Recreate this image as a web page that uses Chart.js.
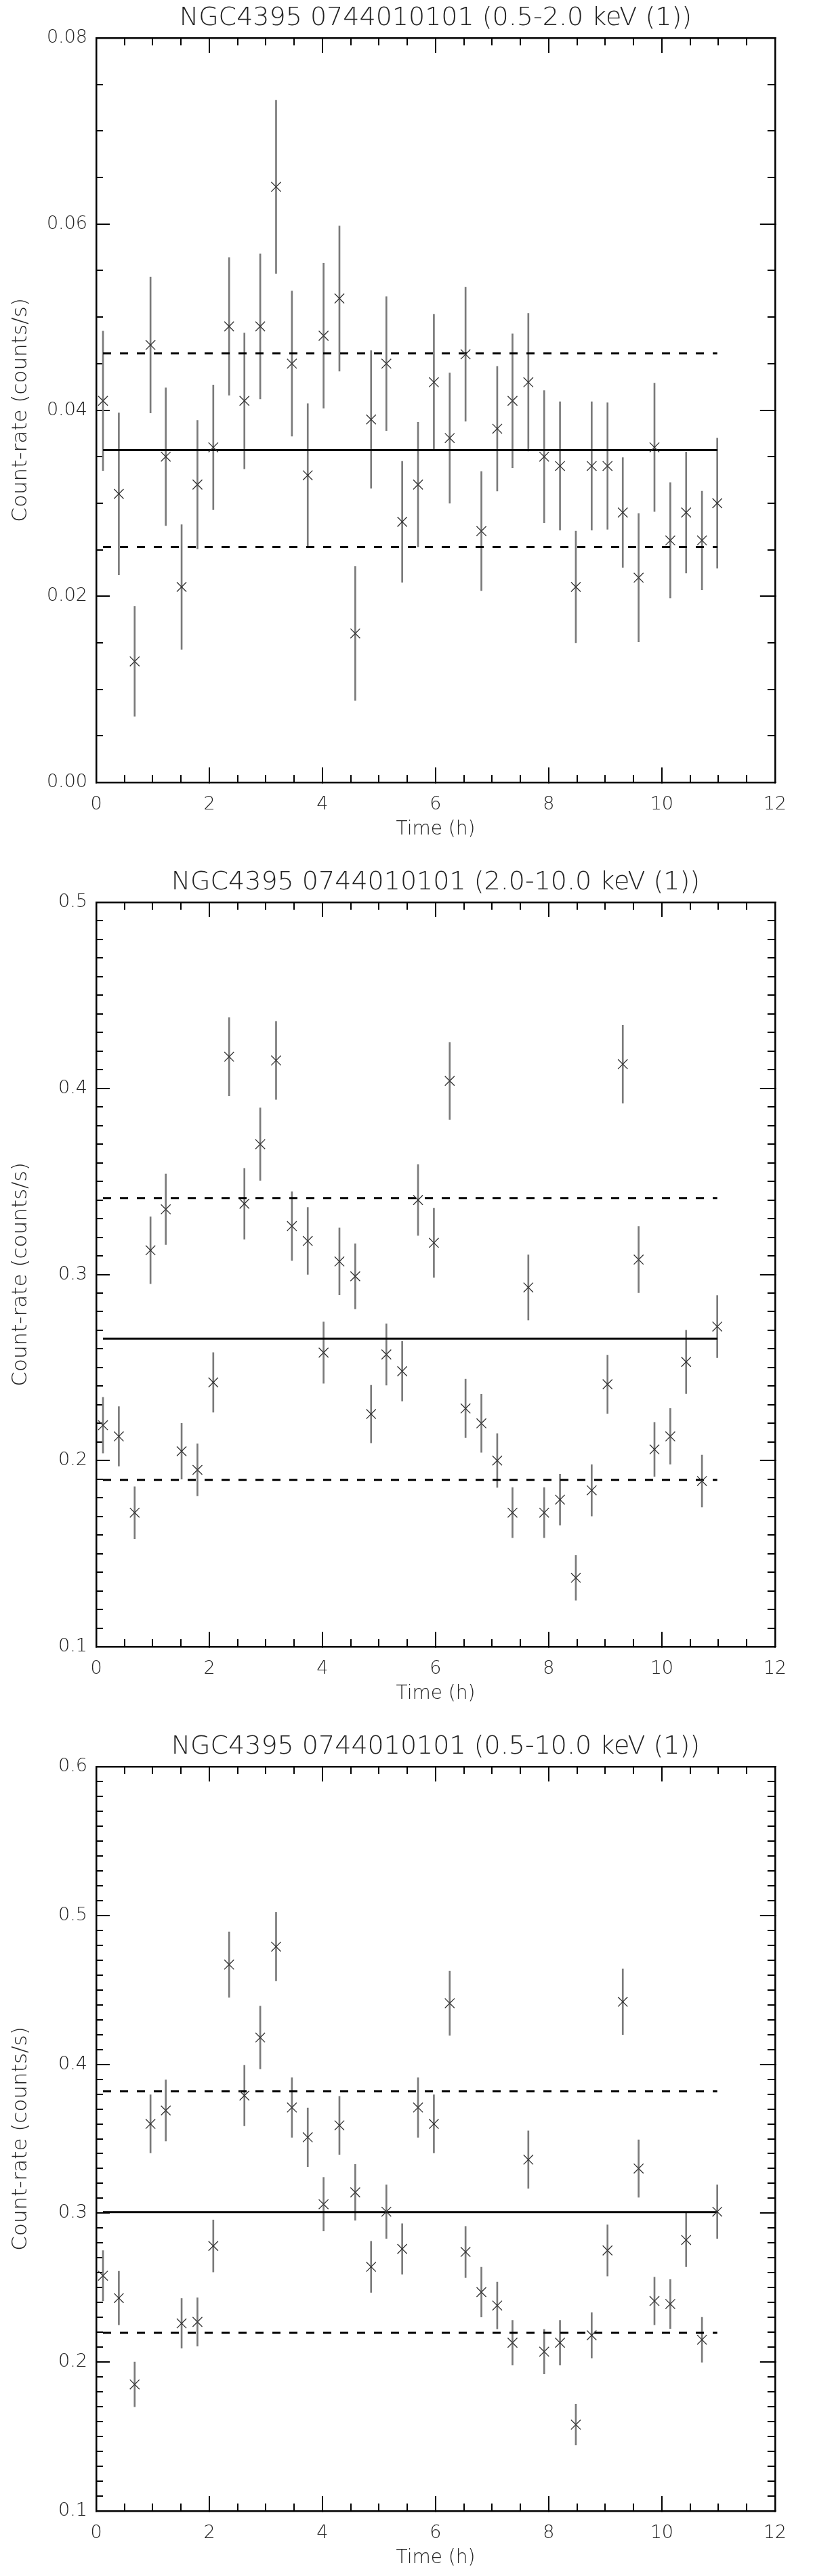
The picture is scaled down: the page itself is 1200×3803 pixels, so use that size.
<!DOCTYPE html>
<html>
<head>
<meta charset="utf-8">
<script src="https://cdn.jsdelivr.net/npm/chart.js@4.4.1/dist/chart.umd.min.js"></script>
<style>
  html, body { margin: 0; padding: 0; background: #fff; overflow: hidden; }
  .panel { width: 1200px; height: 1276px; overflow: hidden; }
  .panel.last { height: 1251px; }
  canvas { display: block; }
</style>
</head>
<body>
<div class="panel"><canvas id="soft" width="1200" height="1276"></canvas></div>
<div class="panel"><canvas id="hard" width="1200" height="1276"></canvas></div>
<div class="panel last"><canvas id="full" width="1200" height="1276"></canvas></div>
<script>
// bin centres (h)
let times = [0.12, 0.40, 0.68, 0.96, 1.23, 1.51, 1.79, 2.07, 2.35, 2.62,
             2.90, 3.18, 3.46, 3.74, 4.02, 4.30, 4.58, 4.86, 5.13, 5.41,
             5.69, 5.97, 6.25, 6.53, 6.81, 7.09, 7.36, 7.64, 7.92, 8.20,
             8.48, 8.76, 9.04, 9.31, 9.59, 9.87, 10.15, 10.43, 10.71, 10.98];

// 0.5-2.0 keV
let softRate = [0.041, 0.031, 0.013, 0.047, 0.035, 0.021, 0.032, 0.036, 0.049, 0.041,
                0.049, 0.064, 0.045, 0.033, 0.048, 0.052, 0.016, 0.039, 0.045, 0.028,
                0.032, 0.043, 0.037, 0.046, 0.027, 0.038, 0.041, 0.043, 0.035, 0.034,
                0.021, 0.034, 0.034, 0.029, 0.022, 0.036, 0.026, 0.029, 0.026, 0.030];
let softErr = [0.0075, 0.0087, 0.0059, 0.0073, 0.0074, 0.0067, 0.0069, 0.0067, 0.0074, 0.0073,
               0.0078, 0.0093, 0.0078, 0.0077, 0.0078, 0.0078, 0.0072, 0.0074, 0.0072, 0.0065,
               0.0067, 0.0073, 0.0070, 0.0072, 0.0064, 0.0067, 0.0072, 0.0074, 0.0071, 0.0069,
               0.0060, 0.0069, 0.0068, 0.0059, 0.0069, 0.0069, 0.0062, 0.0065, 0.0053, 0.0070];
let softMean = 0.0357, softHigh = 0.0461, softLow = 0.0253;

// 2.0-10.0 keV
let hardRate = [0.219, 0.213, 0.172, 0.313, 0.335, 0.205, 0.195, 0.242, 0.417, 0.338,
                0.370, 0.415, 0.326, 0.318, 0.258, 0.307, 0.299, 0.225, 0.257, 0.248,
                0.340, 0.317, 0.404, 0.228, 0.220, 0.200, 0.172, 0.293, 0.172, 0.179,
                0.137, 0.184, 0.241, 0.413, 0.308, 0.206, 0.213, 0.253, 0.189, 0.272];
let hardErr = [0.015, 0.016, 0.014, 0.018, 0.019, 0.015, 0.014, 0.016, 0.021, 0.019,
               0.0195, 0.021, 0.0185, 0.018, 0.0165, 0.018, 0.0175, 0.0155, 0.0165, 0.016,
               0.019, 0.0186, 0.0207, 0.0157, 0.0156, 0.0144, 0.0135, 0.0175, 0.0135, 0.0137,
               0.012, 0.0138, 0.0157, 0.021, 0.0178, 0.0145, 0.015, 0.017, 0.014, 0.0167];
let hardMean = 0.2655, hardHigh = 0.341, hardLow = 0.1896;

// 0.5-10.0 keV
let fullRate = [0.258, 0.243, 0.185, 0.360, 0.369, 0.226, 0.227, 0.278, 0.467, 0.379,
                0.418, 0.479, 0.371, 0.351, 0.306, 0.359, 0.314, 0.264, 0.301, 0.276,
                0.371, 0.360, 0.441, 0.274, 0.247, 0.238, 0.213, 0.336, 0.207, 0.213,
                0.158, 0.218, 0.275, 0.442, 0.330, 0.241, 0.239, 0.282, 0.215, 0.301];
let fullErr = [0.0169, 0.018, 0.015, 0.0195, 0.0205, 0.0167, 0.0163, 0.0175, 0.022, 0.0203,
               0.0211, 0.023, 0.020, 0.0197, 0.018, 0.0195, 0.0188, 0.0172, 0.018, 0.017,
               0.020, 0.0195, 0.0216, 0.0172, 0.0167, 0.0157, 0.015, 0.0193, 0.015, 0.015,
               0.0137, 0.0153, 0.0172, 0.022, 0.0193, 0.016, 0.0165, 0.018, 0.0151, 0.018];
let fullMean = 0.3008, fullHigh = 0.3818, fullLow = 0.2197;

let xTicks = [0, 12, 2, 0.5];   // min, max, major step, minor step

Chart.defaults.color = '#222';
Chart.defaults.font.family = "'DejaVu Sans', sans-serif";
Chart.defaults.font.weight = '200';

// inward tick marks: negative tick length
let tickGrid = function (len) {
    return { drawOnChartArea: false, drawTicks: true, tickLength: -len, offset: false,
             lineWidth: 2, tickWidth: 2, tickColor: '#000', color: '#000' };
};
let axisBorder = function () {
    return { display: true, width: 2.5, color: '#000' };
};

let makeChart = function (id, title, rate, err, mean, high, low, yMin, yMax, yStep, yMinor, dp) {
    let first = times[0];
    let last = times[times.length - 1];
    let level = v => [{ x: first, y: v }, { x: last, y: v }];

    // mirrored / minor axes: ticks only, no room taken
    let xAxis = (pos, step, len, weight, border) => ({
        type: 'linear', axis: 'x', position: pos, weight: weight, offset: false,
        min: xTicks[0], max: xTicks[1],
        ticks: { display: false, stepSize: step },
        grid: tickGrid(len),
        border: border ? axisBorder() : { display: false },
        afterFit: s => { s.height = 0; }
    });
    let yAxis = (pos, step, len, weight, border) => ({
        type: 'linear', axis: 'y', position: pos, weight: weight,
        min: yMin, max: yMax,
        ticks: { display: false, stepSize: step },
        grid: tickGrid(len),
        border: border ? axisBorder() : { display: false },
        afterFit: s => { s.width = 0; }
    });

    return new Chart(document.getElementById(id), {
        type: 'scatter',
        data: {
            datasets: [{
                    type: 'scatter',
                    data: times.map((t, i) => ({ x: t, y: rate[i] })),
                    pointStyle: 'crossRot',
                    pointRadius: 10,
                    borderColor: '#333',
                    borderWidth: 1.3,
                    showLine: false
                }, {
                    type: 'line',
                    data: level(mean),
                    borderColor: '#000',
                    borderWidth: 3,
                    pointRadius: 0,
                    fill: false
                }, {
                    type: 'line',
                    data: level(high),
                    borderColor: '#000',
                    borderWidth: 3,
                    borderDash: [12, 13],
                    pointRadius: 0,
                    fill: false
                }, {
                    type: 'line',
                    data: level(low),
                    borderColor: '#000',
                    borderWidth: 3,
                    borderDash: [12, 13],
                    pointRadius: 0,
                    fill: false
                }, {
                    // error bars as thin floating bars
                    type: 'bar',
                    data: times.map((t, i) => ({ x: t, y: [rate[i] - err[i], rate[i] + err[i]] })),
                    backgroundColor: '#7a7a7a',
                    borderWidth: 0,
                    barThickness: 2
                }]
        },
        options: {
            responsive: false,
            devicePixelRatio: 1,
            animation: false,
            events: [],
            layout: { padding: { left: 0, right: 24, top: 0, bottom: 0 } },
            plugins: {
                legend: { display: false },
                tooltip: { enabled: false },
                title: {
                    display: true,
                    text: title,
                    fullSize: false,
                    color: '#222',
                    font: { size: 38, weight: '200', lineHeight: 1.2 },
                    padding: { top: 4, bottom: 6.4 }
                }
            },
            scales: {
                x: {
                    type: 'linear', position: 'bottom', weight: 1, offset: false,
                    min: xTicks[0], max: xTicks[1],
                    ticks: { stepSize: xTicks[2], padding: 39, maxRotation: 0,
                             font: { size: 27, lineHeight: 1.2 } },
                    grid: tickGrid(22),
                    border: axisBorder(),
                    title: { display: true, text: 'Time (h)',
                             font: { size: 28, lineHeight: 1.2 },
                             padding: { top: 0, bottom: 34 } },
                    afterFit: s => { s.height = 121; }
                },
                xMinor: xAxis('bottom', xTicks[3], 11, 0, false),
                xTop: xAxis('top', xTicks[2], 22, 1, true),
                xTopMinor: xAxis('top', xTicks[3], 11, 0, false),
                y: {
                    type: 'linear', position: 'left', weight: 1,
                    min: yMin, max: yMax,
                    ticks: { stepSize: yStep, padding: 33,
                             font: { size: 27, lineHeight: 1.2 },
                             callback: v => Number(v).toFixed(dp) },
                    grid: tickGrid(20),
                    border: axisBorder(),
                    title: { display: true, text: 'Count-rate (counts/s)',
                             font: { size: 31, lineHeight: 1.2 },
                             padding: { top: 12, bottom: 0 } },
                    afterFit: s => { s.width = 142; }
                },
                yMinor: yAxis('left', yMinor, 10, 0, false),
                yRight: yAxis('right', yStep, 22, 1, true),
                yRightMinor: yAxis('right', yMinor, 11, 0, false)
            }
        }
    });
};

makeChart('soft', 'NGC4395 0744010101 (0.5-2.0 keV (1))', softRate, softErr,
          softMean, softHigh, softLow, 0, 0.08, 0.02, 0.005, 2);
makeChart('hard', 'NGC4395 0744010101 (2.0-10.0 keV (1))', hardRate, hardErr,
          hardMean, hardHigh, hardLow, 0.1, 0.5, 0.1, 0.01, 1);
makeChart('full', 'NGC4395 0744010101 (0.5-10.0 keV (1))', fullRate, fullErr,
          fullMean, fullHigh, fullLow, 0.1, 0.6, 0.1, 0.01, 1);
</script>
</body>
</html>
